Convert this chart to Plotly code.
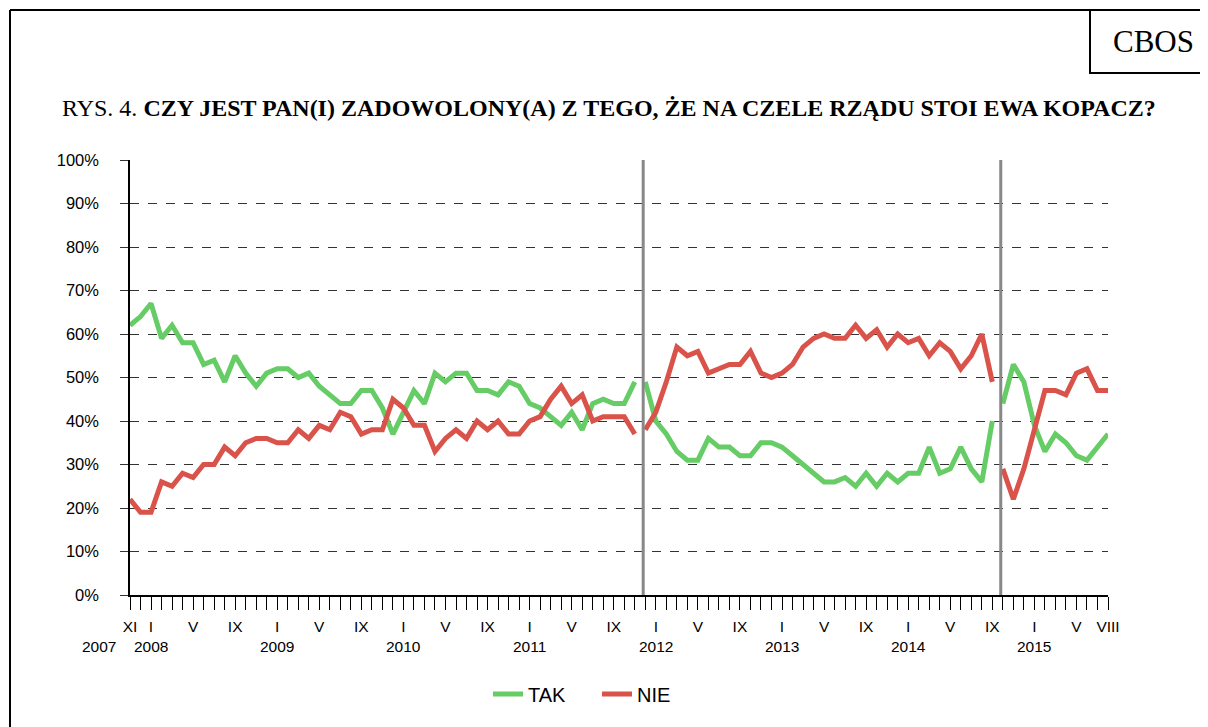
import plotly.graph_objects as go

# Months: XI 2007 .. VIII 2015 (index 0..93)
month_labels = {0: "XI", 2: "I", 6: "V", 10: "IX",
                14: "I", 18: "V", 22: "IX",
                26: "I", 30: "V", 34: "IX",
                38: "I", 42: "V", 46: "IX",
                50: "I", 54: "V", 58: "IX",
                62: "I", 66: "V", 70: "IX",
                74: "I", 78: "V", 82: "IX",
                86: "I", 90: "V", 93: "VIII"}
year_labels = {2: "2008", 14: "2009", 26: "2010", 38: "2011",
               50: "2012", 62: "2013", 74: "2014", 86: "2015"}
first_year_label = "2007"
n_months = 94

tak = [62, 64, 67, 59, 62, 58, 58, 53, 54, 49, 55, 51, 48, 51, 52, 52, 50, 51, 48, 46,
       44, 44, 47, 47, 43, 37, 42, 47, 44, 51, 49, 51, 51, 47, 47, 46, 49, 48, 44, 43,
       41, 39, 42, 38, 44, 45, 44, 44, 49,
       49, 40, 37, 33, 31, 31, 36, 34, 34, 32, 32, 35, 35, 34, 32, 30, 28, 26, 26, 27,
       25, 28, 25, 28, 26, 28, 28, 34, 28, 29, 34, 29, 26, 40,
       44, 53, 49, 39, 33, 37, 35, 32, 31, 34, 37]
nie = [22, 19, 19, 26, 25, 28, 27, 30, 30, 34, 32, 35, 36, 36, 35, 35, 38, 36, 39, 38,
       42, 41, 37, 38, 38, 45, 43, 39, 39, 33, 36, 38, 36, 40, 38, 40, 37, 37, 40, 41,
       45, 48, 44, 46, 40, 41, 41, 41, 37,
       38, 42, 49, 57, 55, 56, 51, 52, 53, 53, 56, 51, 50, 51, 53, 57, 59, 60, 59, 59,
       62, 59, 61, 57, 60, 58, 59, 55, 58, 56, 52, 55, 60, 49,
       29, 22, 29, 38, 47, 47, 46, 51, 52, 47, 47]
segment_starts = [49, 83]   # new government periods start here

def split(vals):
    xs, ys = [], []
    for i, v in enumerate(vals):
        if i in segment_starts:
            xs.append(None); ys.append(None)
        xs.append(i); ys.append(v)
    return xs, ys

GREEN = "#66CC66"
RED = "#D9534A"

fig = go.Figure()
x1, y1 = split(tak)
x2, y2 = split(nie)
fig.add_trace(go.Scatter(x=x1, y=y1, mode="lines", name="TAK",
                         line=dict(color=GREEN, width=5), connectgaps=False))
fig.add_trace(go.Scatter(x=x2, y=y2, mode="lines", name="NIE",
                         line=dict(color=RED, width=5), connectgaps=False))

# separators between periods
for s in segment_starts:
    fig.add_shape(type="line", xref="x", yref="y", x0=s - 0.2, x1=s - 0.2, y0=0, y1=100,
                  line=dict(color="#888888", width=3))

# page has an 8px body margin; figure coords = page coords - 8
OFF = 8
W, H = 1200, 719
L, R, T, B = 122, 100, 152, 132
pw, ph = W - L - R, H - T - B
def px(x): return (x - OFF - L) / pw
def py(y): return (H - B - (y - OFF)) / ph

SERIF = "Liberation Serif, Times New Roman, serif"
SANS = "Liberation Sans, Arial"

# outer frame
fig.add_shape(type="line", xref="paper", yref="paper", x0=px(10), x1=px(1220), y0=py(10), y1=py(10),
              line=dict(color="black", width=2))
fig.add_shape(type="line", xref="paper", yref="paper", x0=px(10), x1=px(10), y0=py(10), y1=py(740),
              line=dict(color="black", width=2))
# CBOS box
fig.add_shape(type="rect", xref="paper", yref="paper", x0=px(1090), x1=px(1225), y0=py(73), y1=py(10),
              line=dict(color="black", width=2), fillcolor="white", layer="above")
fig.add_annotation(xref="paper", yref="paper", x=px(1153), y=py(41), text="CBOS", showarrow=False,
                   xanchor="center", yanchor="middle",
                   font=dict(family=SERIF, size=31, color="black"))
fig.add_annotation(xref="paper", yref="paper", x=px(60), y=py(108), xanchor="left", yanchor="middle",
                   text="RYS. 4. <b>CZY JEST PAN(I) ZADOWOLONY(A) Z TEGO, ŻE NA CZELE RZĄDU STOI EWA KOPACZ?</b>",
                   showarrow=False,
                   font=dict(family=SERIF, size=24, color="black"))

# year labels under the month labels
for xv, txt in year_labels.items():
    fig.add_annotation(xref="x", yref="paper", x=xv, y=py(646), text=txt, showarrow=False,
                       xanchor="center", yanchor="middle",
                       font=dict(family=SANS, size=15.5, color="black"))
fig.add_annotation(xref="paper", yref="paper", x=px(118), y=py(646), text=first_year_label,
                   showarrow=False, xanchor="right", yanchor="middle",
                   font=dict(family=SANS, size=15.5, color="black"))

tickvals = list(range(n_months))
ticktext = [month_labels.get(i, "") for i in tickvals]

fig.update_layout(
    width=W, height=H,
    margin=dict(l=L, r=R, t=T, b=B),
    paper_bgcolor="white", plot_bgcolor="white",
    font=dict(family=SANS, size=15, color="black"),
    showlegend=True,
    legend=dict(orientation="h", x=px(488), xanchor="left", y=py(694), yanchor="middle",
                font=dict(size=20), itemwidth=30, entrywidth=64),
    xaxis=dict(range=[0, n_months - 1], tickmode="array", tickvals=tickvals, ticktext=ticktext,
               ticks="outside", ticklen=13, tickcolor="black", tickwidth=1,
               showline=True, linecolor="black", linewidth=1.5, showgrid=False, zeroline=False,
               tickangle=0, tickfont=dict(size=15.5), ticklabelstandoff=4),
    yaxis=dict(range=[0, 100], tickmode="array", tickvals=list(range(0, 101, 10)),
               ticktext=[f"{v}%" for v in range(0, 101, 10)],
               ticks="outside", ticklen=8, tickcolor="#333333",
               showline=True, linecolor="black", linewidth=1.5,
               showgrid=True, gridcolor="#333333", griddash="dash", gridwidth=1,
               zeroline=False, ticklabelstandoff=18, tickfont=dict(size=16.5)),
)

fig.write_html("out.html")
